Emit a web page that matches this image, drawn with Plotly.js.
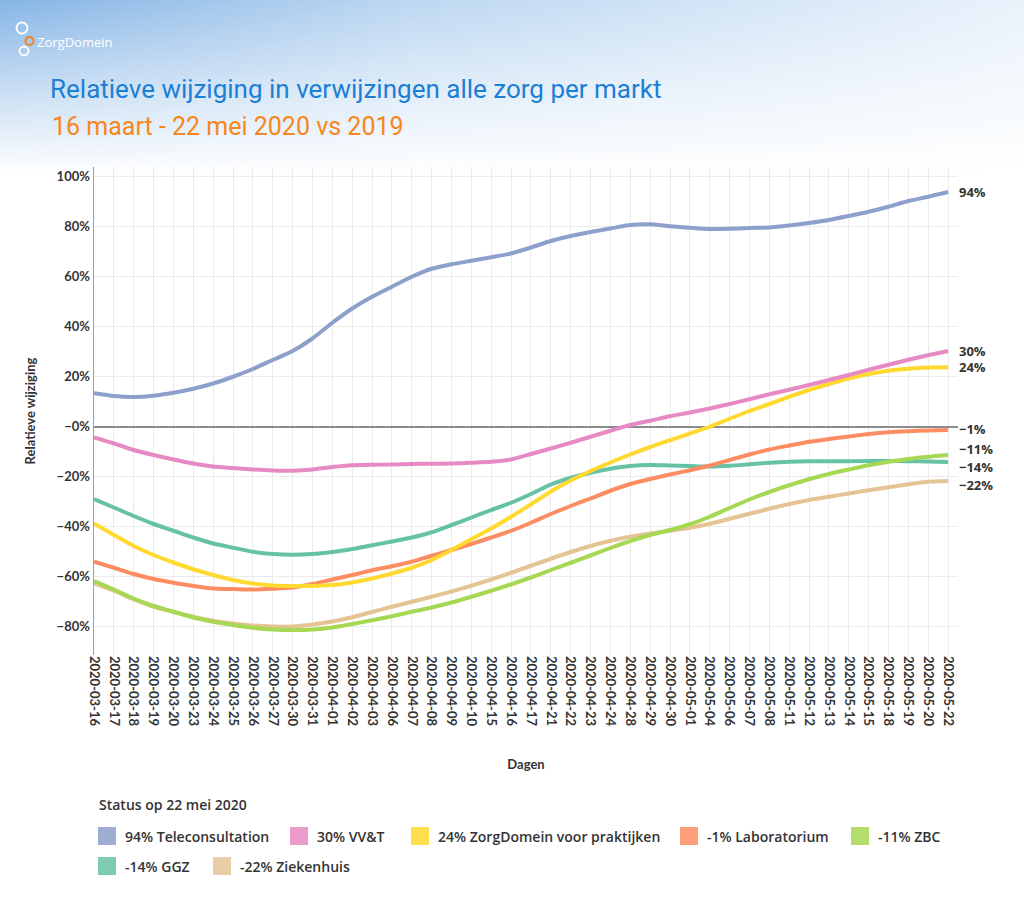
<!DOCTYPE html>
<html><head><meta charset="utf-8">
<script src="https://cdn.plot.ly/plotly-3.0.1.min.js"></script>
<style>
html,body{margin:0;padding:0;width:1024px;height:902px;overflow:hidden;}
body{background:
  linear-gradient(to bottom, rgba(255,255,255,0) 0px, rgba(255,255,255,0.55) 90px, #ffffff 175px),
  linear-gradient(to right, #86b5e5 0%, #bcd7f1 40%, #e9f2fb 100%);}
#chart{width:1024px;height:902px;}
</style></head><body><div id="chart"></div>
<script>
const dates = ['2020-03-16','2020-03-17','2020-03-18','2020-03-19','2020-03-20','2020-03-23','2020-03-24','2020-03-25','2020-03-26','2020-03-27','2020-03-30','2020-03-31',
  '2020-04-01','2020-04-02','2020-04-03','2020-04-06','2020-04-07','2020-04-08','2020-04-09','2020-04-10','2020-04-15','2020-04-16','2020-04-17','2020-04-21','2020-04-22','2020-04-23','2020-04-24','2020-04-28','2020-04-29','2020-04-30',
  '2020-05-01','2020-05-04','2020-05-06','2020-05-07','2020-05-08','2020-05-11','2020-05-12','2020-05-13','2020-05-14','2020-05-15','2020-05-18','2020-05-19','2020-05-20','2020-05-22'];

const teleconsultation = [13.4,12.3,11.9,12.4,13.6,15.2,17.3,20,23.1,26.7,30.3,35.3,41.6,47.3,52,56,60,63.2,65,66.4,67.8,69.3,71.7,74.3,76.3,77.9,79.3,80.7,81,80.2,79.6,79.1,79.2,79.5,79.7,80.5,81.5,82.7,84.3,86,88,90.3,92,93.9];
const vvt = [-4.3,-6.7,-9.3,-11.3,-13.1,-14.7,-15.9,-16.5,-17.1,-17.5,-17.6,-17.1,-16.1,-15.4,-15.2,-15.1,-14.9,-14.8,-14.7,-14.4,-14,-13.1,-10.9,-8.7,-6.4,-4,-1.6,0.7,2.4,4.2,5.7,7.3,9.1,11,13,14.8,16.7,18.7,20.7,22.8,24.8,26.8,28.6,30.3];
const zorgdomein = [-38.7,-43.3,-47.7,-51.3,-54.3,-57,-59.3,-61.3,-62.7,-63.5,-63.7,-63.7,-63.3,-62.3,-60.7,-58.7,-56.4,-53.3,-49.3,-45,-40.7,-36,-31,-25.9,-21.5,-17.7,-14.3,-11.1,-8.1,-5.4,-2.7,0,3.2,6.3,9.1,12,14.7,17.1,19.3,21.1,22.4,23.2,23.7,23.8];
const laboratorium = [-54,-56.4,-58.9,-60.9,-62.4,-63.7,-64.7,-64.9,-65.1,-64.8,-64.3,-62.9,-61.1,-59.3,-57.4,-55.8,-54,-51.6,-49.3,-46.9,-44.3,-41.6,-38.4,-34.9,-31.7,-28.7,-25.6,-22.9,-20.9,-19.1,-17.4,-15.5,-13.3,-11.1,-9.1,-7.5,-6,-4.9,-3.9,-2.9,-2.2,-1.8,-1.5,-1.3];
const zbc = [-61.7,-65.1,-68.7,-71.7,-74,-76.3,-78,-79.3,-80.4,-81.1,-81.3,-81.1,-80.3,-78.9,-77.4,-75.8,-74,-72.3,-70.3,-68,-65.6,-63,-60.3,-57.3,-54.4,-51.5,-48.5,-45.7,-43.3,-41.3,-39,-36,-32.5,-29.1,-26.1,-23.4,-21,-18.9,-17.1,-15.4,-14,-12.9,-12,-11.3];
const ggz = [-28.9,-32.3,-35.7,-38.9,-41.6,-44.3,-46.7,-48.4,-50,-50.9,-51.2,-50.9,-50.1,-48.9,-47.4,-45.9,-44.3,-42.2,-39.3,-36.3,-33.3,-30.4,-26.9,-23.1,-20.4,-18.4,-16.8,-15.7,-15.3,-15.5,-15.7,-15.9,-15.6,-15,-14.4,-14,-13.8,-13.8,-13.8,-13.7,-13.7,-13.8,-13.9,-14.1];
const ziekenhuis = [-62.7,-65.6,-69.1,-72,-74,-76,-77.6,-78.7,-79.5,-79.9,-79.9,-79.1,-77.9,-76.2,-74.1,-72,-70,-68,-65.9,-63.6,-61.1,-58.4,-55.6,-52.8,-50.1,-47.7,-45.6,-44,-42.7,-41.6,-40.4,-38.8,-36.8,-34.8,-32.8,-30.9,-29.3,-28,-26.7,-25.4,-24.2,-23,-22,-21.7];

const seriesNames = ['Teleconsultation','VV&T','ZorgDomein voor praktijken','Laboratorium','ZBC','GGZ','Ziekenhuis'];
const seriesValues = [teleconsultation, vvt, zorgdomein, laboratorium, zbc, ggz, ziekenhuis];
const seriesColors = ['#8da0cb','#e78ac3','#ffd92f','#fc8d62','#a6d854','#66c2a5','#e5c494'];
const yTickValues = [-80,-60,-40,-20,0,20,40,60,80,100];

const titleText = 'Relatieve wijziging in verwijzingen alle zorg per markt';
const subtitleText = '16 maart - 22 mei 2020 vs 2019';
const legendTitle = 'Status op 22 mei 2020';

// layout helpers (pixel -> paper)
const L=94, R=958, T=167, B=655, W=R-L, H=B-T;
const px = x => (x-L)/W, py = y => (B-y)/H;

const FONT = 'Lato, "Open Sans", sans-serif';
const FONT2 = '"Open Sans", Lato, sans-serif';
const DARK = '#333333';

const drawOrder = [5,6,4,3,2,1,0];
const traces = drawOrder.map(i => ({
  type:'scatter', mode:'lines', name: seriesNames[i], x: dates, y: seriesValues[i],
  line:{color: seriesColors[i], width:4, shape:'spline', smoothing:0.6},
  showlegend:false, hoverinfo:'x+y+name'
}));

const minus = '\u2212';
const yTickText = yTickValues.map(v => (v<=0 ? minus + Math.abs(v) : v) + '%');

const annotations = [];
// end labels (small vertical nudges so close labels do not collide)
const yShifts = [0,0,0,1,6,-5,-4];
seriesValues.forEach((vals,i) => {
  const last = vals[vals.length-1];
  const r = Math.round(last);
  annotations.push({
    x: dates[dates.length-1], y: last, xref:'x', yref:'y', xanchor:'left', yanchor:'middle',
    xshift: 10, yshift: yShifts[i], showarrow:false, borderpad:0,
    text: (r<0 ? minus + Math.abs(r) : r) + '%',
    font:{family:FONT2, size:13, color:DARK, weight:'bold'}
  });
});
// subtitle
annotations.push({x:px(50), y:py(127), xref:'paper', yref:'paper', xanchor:'left', yanchor:'middle', showarrow:false,
  text: subtitleText, font:{family:'Roboto, sans-serif', size:25, color:'#f7861c'}});
// logo text
annotations.push({x:px(35), y:py(42), xref:'paper', yref:'paper', xanchor:'left', yanchor:'middle', showarrow:false,
  text:'ZorgDomein', font:{family:'"Open Sans", sans-serif', size:13, color:'#ffffff'}});
// legend title
annotations.push({x:px(97), y:py(804), xref:'paper', yref:'paper', xanchor:'left', yanchor:'middle', showarrow:false,
  text: legendTitle, font:{family:FONT2, size:14, color:DARK, weight:600}});

// custom legend
const legendPos = [[98,836],[290,836],[411,836],[680,836],[851,836],[98,866],[213,866]];
const shapes = [];
seriesNames.forEach((n,i) => {
  const [lx,ly] = legendPos[i];
  const last = seriesValues[i][seriesValues[i].length-1];
  shapes.push({type:'rect', xref:'paper', yref:'paper', x0:px(lx), x1:px(lx+18), y0:py(ly+9), y1:py(ly-9),
    fillcolor: seriesColors[i], opacity:0.85, line:{width:0}});
  annotations.push({x:px(lx+25), y:py(ly), xref:'paper', yref:'paper', xanchor:'left', yanchor:'middle', showarrow:false,
    text: Math.round(last) + '% ' + n, font:{family:FONT2, size:14, color:DARK, weight:600}});
});
// logo rings
function ring(cx, cy, r, color, w){
  shapes.push({type:'circle', xref:'paper', yref:'paper', x0:px(cx-r), x1:px(cx+r), y0:py(cy+r), y1:py(cy-r),
    line:{color:color, width:w}, fillcolor:'rgba(0,0,0,0)'});
}
ring(22,28,5.5,'#ffffff',1.8);
ring(29.5,41,4,'#f58220',2);
ring(24,51,4.5,'#ffffff',1.8);

const layout = {
  width:1024, height:902,
  margin:{l:L, r:1024-R, t:T, b:902-B, pad:0},
  paper_bgcolor:'rgba(0,0,0,0)', plot_bgcolor:'rgba(0,0,0,0)',
  title:{text:titleText, x:50/1024, xref:'container', xanchor:'left', y:1-89/902, yref:'container', yanchor:'middle',
    font:{family:'Roboto, sans-serif', size:26, color:'#1b7fd6'}},
  showlegend:false,
  xaxis:{type:'category', range:[0,43.5], tickmode:'linear', tick0:0, dtick:1,
    showgrid:true, gridcolor:'#ebebeb', gridwidth:1, zeroline:false, showline:false, ticks:'',
    tickangle:90, tickfont:{family:FONT, size:13, color:DARK, weight:'bold'},
    title:{text:'Dagen', font:{family:FONT, size:13, color:DARK, weight:'bold'}, standoff:34},
    automargin:false, fixedrange:true},
  yaxis:{range:[-91.3,103.9], tickmode:'array', tickvals:yTickValues, ticktext:yTickText,
    showgrid:true, gridcolor:'#ebebeb', gridwidth:1,
    zeroline:true, zerolinecolor:'#8c8c8c', zerolinewidth:1.5,
    showline:true, linecolor:'#9e9e9e', linewidth:1.5, ticks:'',
    tickfont:{family:FONT, size:13, color:DARK, weight:'bold'},
    title:{text:'Relatieve wijziging', font:{family:FONT, size:13, color:DARK, weight:'bold'}, standoff:18},
    automargin:false, fixedrange:true},
  annotations, shapes
};
Plotly.newPlot('chart', traces, layout, {displayModeBar:false, staticPlot:true});
</script></body></html>
